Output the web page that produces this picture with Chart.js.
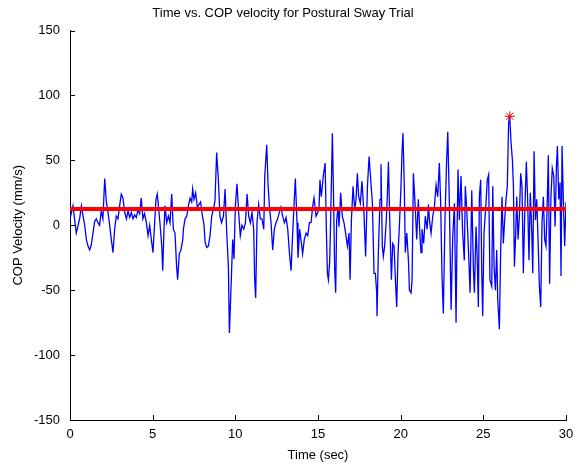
<!DOCTYPE html>
<html>
<head>
<meta charset="utf-8">
<title>Time vs. COP velocity</title>
<script src="https://cdn.jsdelivr.net/npm/chart.js@4.4.1/dist/chart.umd.min.js"></script>
<style>
    html, body { margin: 0; padding: 0; background: #fff; }
    #wrap { width: 579px; height: 470px; }
</style>
</head>
<body>
<div id="wrap"><canvas id="sway" width="579" height="470"></canvas></div>
<script>
// sample times (sec)
const times = [
    0, 0.18, 0.38, 0.58, 0.69, 0.79, 0.89, 0.99, 1.09, 1.19, 1.29, 1.39, 1.49, 1.59, 1.69, 1.79, 1.89, 1.99,
    2.10, 2.20, 2.30, 2.40, 2.50, 2.60, 2.70, 2.80, 2.90, 3.0, 3.1, 3.2, 3.31, 3.41, 3.51, 3.61, 3.71, 3.81,
    3.91, 4.01, 4.11, 4.21, 4.31, 4.41, 4.51, 4.62, 4.72, 4.82, 4.92, 5.02,
    5.20, 5.28, 5.34, 5.44, 5.55, 5.61, 5.69, 5.75, 5.85, 5.95, 6.05, 6.15, 6.25, 6.35, 6.45, 6.51, 6.61,
    6.71, 6.82, 6.86, 6.96, 7.06, 7.16, 7.26, 7.36, 7.42, 7.50, 7.60, 7.70, 7.80, 7.90, 8.01, 8.11, 8.17,
    8.27, 8.37, 8.47, 8.57, 8.67, 8.77, 8.87, 8.97, 9.07, 9.17, 9.28, 9.38, 9.48, 9.58, 9.64, 9.72, 9.84,
    9.92, 10.0,
    10.10, 10.20, 10.30, 10.40, 10.51, 10.61, 10.71, 10.81, 10.91, 11.01, 11.11, 11.17, 11.23, 11.31, 11.41,
    11.51, 11.61, 11.72, 11.78, 11.90, 11.98, 12.06, 12.16, 12.26, 12.36, 12.46, 12.56, 12.66, 12.76, 12.86,
    12.97, 13.07, 13.17, 13.27, 13.37, 13.47, 13.57, 13.63, 13.73, 13.79, 13.89, 13.97, 14.07, 14.17, 14.28,
    14.38, 14.48, 14.58, 14.68, 14.76, 14.88, 14.96,
    15.06, 15.12, 15.20, 15.32, 15.43, 15.51, 15.57, 15.63, 15.71, 15.77, 15.87, 15.93, 16.01, 16.07, 16.13,
    16.21, 16.27, 16.37, 16.47, 16.57, 16.67, 16.78, 16.88, 16.94, 17.02, 17.12, 17.22, 17.30, 17.38, 17.46,
    17.56, 17.66, 17.78, 17.88, 17.99, 18.09, 18.19, 18.29, 18.39, 18.47, 18.55, 18.57, 18.65, 18.75, 18.81,
    18.89, 18.95, 19.03, 19.13, 19.20, 19.26, 19.34, 19.44, 19.52, 19.60, 19.70, 19.76, 19.84, 19.92,
    20.02, 20.08, 20.14, 20.22, 20.28, 20.37, 20.47, 20.53, 20.63, 20.69, 20.77, 20.87, 20.97, 21.07, 21.17,
    21.23, 21.29, 21.39, 21.49, 21.60, 21.68, 21.74, 21.84, 21.94, 22.04, 22.14, 22.24, 22.34, 22.42, 22.50,
    22.58, 22.68, 22.78, 22.85, 22.95, 23.05, 23.15, 23.25, 23.31, 23.35, 23.41, 23.47, 23.55, 23.65, 23.75,
    23.85, 23.91, 23.99, 24.09, 24.20, 24.30, 24.40, 24.46, 24.56, 24.62, 24.70, 24.76, 24.84,
    24.90, 24.96, 25.04, 25.16, 25.24, 25.32, 25.40, 25.51, 25.57, 25.65, 25.73, 25.81, 25.87, 25.97, 26.05,
    26.13, 26.21, 26.29, 26.37, 26.45, 26.53, 26.59, 26.68, 26.76, 26.82, 26.88, 26.96, 27.02, 27.10, 27.18,
    27.26, 27.34, 27.42, 27.50, 27.60, 27.68, 27.76, 27.84, 27.93, 27.99, 28.07, 28.15, 28.23, 28.31, 28.39,
    28.47, 28.55, 28.63, 28.71, 28.79, 28.87, 28.93, 29.01, 29.09, 29.17, 29.26, 29.34, 29.42, 29.48, 29.56,
    29.64, 29.70, 29.76, 29.84, 29.92, 30.0
];

// COP velocity (mm/s) at those times
const velocity = [
    5, 15, -6, 5, 15, 7, 0, -11, -16, -19, -15, -6, 3, 5, 2, 0, 11, 5,
    36, 18, 10, 0, -11, -21, -3, 7, 5, 15, 24, 21, 10, 5, 11, 6, 10, 5,
    8, 6, 12, 9, 21, 5, 9, 2, -8, 0, -11, -21,
    20, 24, 16, 2, -16, -35, -1, 15, 2, 7, 2, 24, -3, -6, -32, -42, -22,
    -19, -11, -3, 5, 7, 15, 21, 18, 28, 20, 25, 14, 16, 18, 7, 0, -13,
    -17, -16, -8, 7, 12, 19, 56, 36, 7, 2, 7, 28, -6, -32, -83, -55, -11,
    -26, 15,
    32, 10, -8, 0, -3, 2, 24, 7, 2, 10, -3, -42, -56, 2, 16,
    5, 5, -3, 38, 62, 31, 15, 2, -19, -3, 2, 5, 10, 14, 7,
    2, 6, -3, -21, -35, -6, 21, 36, 2, -25, -3, -11, -22, -11, -6,
    -8, 2, 2, 15, 21, 7, 9,
    13, 35, 22, 38, 48, -6, -37, -42, -27, 7, 71, 30, -34, -52, 4,
    14, -1, 25, 7, 2, -6, -16, -6, -42, 4, 30, 12, 20, 40, 22,
    17, 34, 9, -24, 30, 53, 35, 17, -37, -37, -52, -70, -21, 20, 47,
    -16, -24, -16, 4, 25, 49, 4, -42, -14, -16, -47, -63, -22, -1,
    30, 56, 71, 30, -21, -6, -27, -50, -52, -42, 40, 17, -11, 20, -9,
    -21, -3, -14, 7, -3, 16, 4, -6, 7, 14, 31, 22, 48, 17, -39,
    -68, 4, 50, 72, 14, -65, -9, 17, -37, -75, -6, 43, 4, 38, -6,
    -27, 30, 14, -16, -52, 27, -34, -52, -1, -21, -63, 22, 35,
    -32, -70, -6, 17, 35, 39, -42, -47, 30, -32, -50, -19, -57, -80, -19,
    22, -14, 4, 20, 30, 79, 85, 63, 50, 30, -32, -6, 22, -11, 7,
    40, 30, -37, 7, 49, 20, -27, 25, -6, -37, 57, 4, 20, -11, -47,
    -63, 2, 22, -11, -16, 20, 54, -45, 22, 44, 38, -1, 45, 61, 20,
    33, -39, 61, 20, -16, 18
];

const meanVelocity = 12.5;
const peakTime = 26.6;
const peakVelocity = 84;

const xTicks = [0, 5, 10, 15, 20, 25, 30];
const yTicks = [-150, -100, -50, 0, 50, 100, 150];

const FONT = "'Liberation Sans', Arial, Helvetica, sans-serif";

// matlab style ticks pointing into the axes
const innerTicks = {
    id: "innerTicks",
    afterDatasetsDraw(chart) {
        const { ctx, chartArea, scales } = chart;
        ctx.save();
        ctx.strokeStyle = "#000";
        ctx.lineWidth = 1;
        ctx.beginPath();
        yTicks.forEach((v) => {
            const y = Math.round(scales.y.getPixelForValue(v)) + 0.5;
            ctx.moveTo(chartArea.left, y);
            ctx.lineTo(chartArea.left + 5, y);
        });
        xTicks.forEach((v) => {
            const x = Math.round(scales.x.getPixelForValue(v)) + 0.5;
            ctx.moveTo(x, chartArea.bottom);
            ctx.lineTo(x, chartArea.bottom - 5);
        });
        ctx.stroke();
        ctx.restore();
    },
};

const points = times.map((t, i) => ({ x: t, y: velocity[i] }));

new Chart(document.getElementById("sway"), {
    type: "line",
    data: {
        datasets: [
            {
                label: "peak",
                data: [{ x: peakTime, y: peakVelocity }],
                showLine: false,
                pointStyle: "star",
                pointRadius: 5,
                borderColor: "#ff0000",
                backgroundColor: "#ff0000",
                borderWidth: 1,
            },
            {
                label: "mean",
                data: [
                    { x: 0, y: meanVelocity },
                    { x: 30, y: meanVelocity },
                ],
                borderColor: "#ff0000",
                borderWidth: 4,
                pointRadius: 0,
            },
            {
                label: "velocity",
                data: points,
                borderColor: "#0000ff",
                borderWidth: 1.3,
                pointRadius: 0,
                tension: 0,
            },
        ],
    },
    options: {
        responsive: false,
        animation: false,
        devicePixelRatio: 1,
        layout: { padding: { left: 0, right: 13, top: 0, bottom: 0 } },
        plugins: {
            legend: { display: false },
            tooltip: { enabled: false },
            title: {
                display: true,
                text: "Time vs. COP velocity for Postural Sway Trial",
                color: "#000",
                font: { family: FONT, size: 13, weight: "normal" },
                padding: { top: 6, bottom: 9 },
            },
        },
        scales: {
            x: {
                type: "linear",
                min: 0,
                max: 30,
                afterBuildTicks: (s) => {
                    s.ticks = xTicks.map((v) => ({ value: v }));
                },
                afterFit: (s) => {
                    s.height = 50;
                },
                grid: { display: false },
                border: { display: true, color: "#000", width: 1 },
                ticks: {
                    color: "#000",
                    padding: -1,
                    maxRotation: 0,
                    font: { family: FONT, size: 13 },
                },
                title: {
                    display: true,
                    text: "Time (sec)",
                    color: "#000",
                    font: { family: FONT, size: 13 },
                    padding: { top: 2, bottom: 7 },
                },
            },
            y: {
                type: "linear",
                min: -150,
                max: 150,
                afterBuildTicks: (s) => {
                    s.ticks = yTicks.map((v) => ({ value: v }));
                },
                afterFit: (s) => {
                    s.width = 70;
                },
                grid: { display: false },
                border: { display: true, color: "#000", width: 1 },
                ticks: {
                    color: "#000",
                    padding: 2,
                    font: { family: FONT, size: 13 },
                },
                title: {
                    display: true,
                    text: "COP Velocity (mm/s)",
                    color: "#000",
                    font: { family: FONT, size: 13 },
                    padding: { top: 11, bottom: 0 },
                },
            },
        },
    },
    plugins: [innerTicks],
});
</script>
</body>
</html>
